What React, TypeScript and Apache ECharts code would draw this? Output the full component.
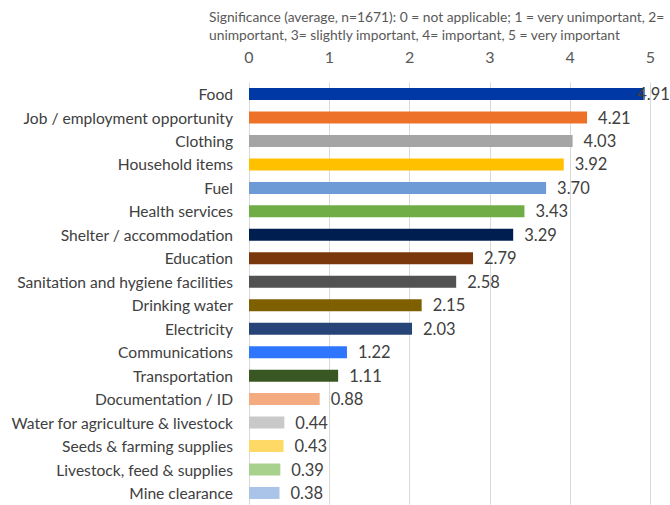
import React, { useEffect, useRef } from "react";
import * as echarts from "echarts";

const categories = [
  "Food",
  "Job / employment opportunity",
  "Clothing",
  "Household items",
  "Fuel",
  "Health services",
  "Shelter / accommodation",
  "Education",
  "Sanitation and hygiene facilities",
  "Drinking water",
  "Electricity",
  "Communications",
  "Transportation",
  "Documentation / ID",
  "Water for agriculture & livestock",
  "Seeds & farming supplies",
  "Livestock, feed & supplies",
  "Mine clearance",
];

const values = [4.91, 4.21, 4.03, 3.92, 3.7, 3.43, 3.29, 2.79, 2.58, 2.15, 2.03, 1.22, 1.11, 0.88, 0.44, 0.43, 0.39, 0.38];

const colors = [
  "#0039A6",
  "#ED7128",
  "#A5A5A5",
  "#FFC000",
  "#6E9BD5",
  "#70AD47",
  "#001E50",
  "#7B370C",
  "#525252",
  "#7F6000",
  "#264478",
  "#2F76FF",
  "#385723",
  "#F4AB7F",
  "#C9C9C9",
  "#FFD966",
  "#A9D18E",
  "#A9C4E8",
];

const tickLabels = ["0", "1", "2", "3", "4", "5"];

const titleLines = [
  "Significance (average, n=1671): 0 = not applicable; 1 = very unimportant, 2=",
  "unimportant, 3= slightly important, 4= important, 5 = very important",
];

const FONT = "Lato, 'Noto Sans', sans-serif";

export default function App() {
  const ref = useRef<HTMLDivElement>(null);
  useEffect(() => {
    if (!ref.current) return;
    const chart = echarts.init(ref.current, undefined, { renderer: "svg" });
    chart.setOption({
      animation: false,
      backgroundColor: "#ffffff",
      textStyle: { fontFamily: FONT },
      title: {
        text: titleLines.join("\n"),
        left: 204,
        top: 2,
        textStyle: {
          fontSize: 13.8,
          fontWeight: "normal",
          color: "#595959",
          lineHeight: 18,
          fontFamily: FONT,
        },
      },
      grid: { left: 249, right: 19.5, top: 82.3, bottom: 0.3, containLabel: false },
      xAxis: {
        type: "value",
        position: "top",
        min: 0,
        max: 5,
        interval: 1,
        axisLine: { show: false },
        axisTick: { show: false },
        splitLine: { show: true, lineStyle: { color: "#D9D9D9", width: 1 } },
        axisLabel: {
          fontSize: 16,
          color: "#595959",
          margin: 18,
          fontFamily: FONT,
          formatter: (v: number) => tickLabels[Math.round(v)] ?? String(v),
        },
      },
      yAxis: {
        type: "category",
        inverse: true,
        data: categories,
        axisLine: { show: false },
        axisTick: { show: false },
        splitLine: { show: false },
        axisLabel: { fontSize: 15.6, color: "#404040", margin: 16, fontFamily: FONT },
      },
      series: [
        {
          type: "bar",
          barWidth: 12,
          data: values.map((v, i) => ({
            value: v,
            itemStyle: { color: colors[i] },
            label: i === 0 ? { distance: -6 } : undefined,
          })),
          label: {
            show: true,
            position: "right",
            distance: 11,
            fontSize: 16.5,
            color: "#404040",
            fontFamily: FONT,
            formatter: (p: any) => Number(p.value).toFixed(2),
          },
        },
      ],
    });
    return () => chart.dispose();
  }, []);
  return (
    <div
      ref={ref}
      style={{ position: "fixed", left: 0, top: 0, width: 670, height: 505 }}
    />
  );
}
